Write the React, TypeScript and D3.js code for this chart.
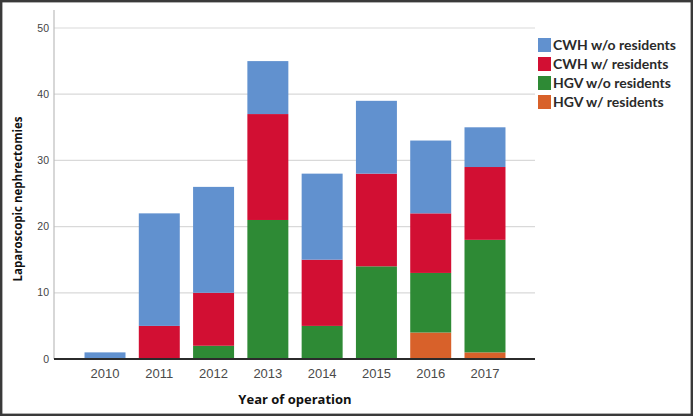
import React, { useEffect, useRef } from "react";
import * as d3 from "d3";

const years = ["2010", "2011", "2012", "2013", "2014", "2015", "2016", "2017"];
// stacked bottom -> top
const hgvWithRes = [0, 0, 0, 0, 0, 0, 4, 1];
const hgvWithoutRes = [0, 0, 2, 21, 5, 14, 9, 17];
const cwhWithRes = [0, 5, 8, 16, 10, 14, 9, 11];
const cwhWithoutRes = [1, 17, 16, 8, 13, 11, 11, 6];
const yTicks = [0, 10, 20, 30, 40, 50];
const legendLabels = ["CWH w/o residents", "CWH w/ residents", "HGV w/o residents", "HGV w/ residents"];

const W = 693;
const H = 416;

export default function App() {
  const ref = useRef<SVGSVGElement>(null);

  useEffect(() => {
    const svg = d3.select(ref.current);
    svg.selectAll("*").remove();

    const plotLeft = 54, plotRight = 535, plotTop = 10;

    const keys = ["hgvW", "hgvWo", "cwhW", "cwhWo"];
    const colors: Record<string, string> = {
      cwhWo: "#6191cf",
      cwhW: "#d20f33",
      hgvWo: "#2e8a35",
      hgvW: "#d8612a",
    };
    const rows = years.map((y, i) => ({
      year: y,
      hgvW: hgvWithRes[i],
      hgvWo: hgvWithoutRes[i],
      cwhW: cwhWithRes[i],
      cwhWo: cwhWithoutRes[i],
    }));

    const x = d3.scaleBand().domain(years).range([78, 512]).paddingInner(0.245).paddingOuter(0.12);
    const y = d3.scaleLinear().domain([0, 50]).range([359, 28]);

    // background + border
    svg.append("rect").attr("x", 1.2).attr("y", 1.2).attr("width", W - 2.4).attr("height", H - 2.4)
      .attr("fill", "#fff").attr("stroke", "#3a3a3a").attr("stroke-width", 2.4);

    // grid lines
    svg.append("g").selectAll("line").data(yTicks.filter(t => t > 0)).enter().append("line")
      .attr("x1", plotLeft).attr("x2", plotRight)
      .attr("y1", d => y(d)).attr("y2", d => y(d))
      .attr("stroke", "#d9d9d9").attr("stroke-width", 1.2);

    // y axis line
    svg.append("line").attr("x1", plotLeft).attr("x2", plotLeft).attr("y1", plotTop).attr("y2", y(0))
      .attr("stroke", "#bdbdbd").attr("stroke-width", 1.2);

    // bars
    const stack = d3.stack<any>().keys(keys)(rows);
    svg.append("g").selectAll("g").data(stack).enter().append("g")
      .attr("fill", d => colors[d.key])
      .selectAll("rect").data(d => d.filter(s => s[1] - s[0] > 0)).enter().append("rect")
      .attr("x", d => x(d.data.year)!)
      .attr("width", x.bandwidth())
      .attr("y", d => y(d[1]))
      .attr("height", d => y(d[0]) - y(d[1]));

    // baseline
    svg.append("line").attr("x1", plotLeft).attr("x2", plotRight).attr("y1", y(0)).attr("y2", y(0))
      .attr("stroke", "#2b2b2b").attr("stroke-width", 2);

    // y tick labels
    svg.append("g").selectAll("text").data(yTicks).enter().append("text")
      .attr("x", 49).attr("y", d => y(d)).attr("dy", "0.35em")
      .attr("text-anchor", "end").attr("font-size", 10.5).attr("font-family", "Arial, Liberation Sans, sans-serif")
      .attr("fill", "#444").text(d => d);

    // x tick labels
    svg.append("g").selectAll("text").data(years).enter().append("text")
      .attr("x", d => x(d)! + x.bandwidth() / 2).attr("y", 378)
      .attr("text-anchor", "middle").attr("font-size", 13).attr("font-family", "Arial, Liberation Sans, sans-serif")
      .attr("fill", "#4a4a4a").text(d => d);

    // axis titles
    svg.append("text").attr("x", 295).attr("y", 404).attr("text-anchor", "middle")
      .attr("font-size", 13).attr("font-weight", 700).attr("font-family", "Open Sans, sans-serif")
      .attr("fill", "#111").text("Year of operation");
    svg.append("text").attr("transform", "translate(22,199) rotate(-90)").attr("text-anchor", "middle")
      .attr("font-size", 11.5).attr("font-weight", 700).attr("font-family", "Open Sans, sans-serif")
      .attr("fill", "#111").text("Laparoscopic nephrectomies");

    // legend
    const legKeys = ["cwhWo", "cwhW", "hgvWo", "hgvW"];
    const leg = svg.append("g").selectAll("g").data(legKeys).enter().append("g")
      .attr("transform", (d, i) => `translate(538,${38 + i * 19})`);
    leg.append("rect").attr("width", 13).attr("height", 14).attr("fill", d => colors[d]);
    leg.append("text").attr("x", 15).attr("y", 7).attr("dy", "0.36em")
      .attr("font-size", 14).attr("font-weight", 700).attr("font-family", "Lato, sans-serif")
      .attr("fill", "#2a2a2a").text((d, i) => legendLabels[i]);
  }, []);

  return (
    <svg ref={ref} width={W} height={H}
      style={{ display: "block", position: "absolute", left: 0, top: 0 }} />
  );
}
